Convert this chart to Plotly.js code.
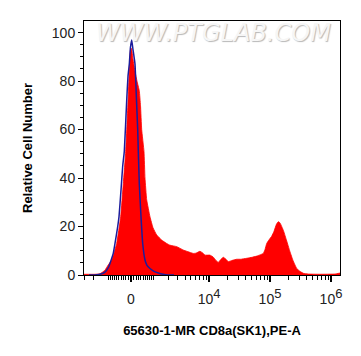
<!DOCTYPE html>
<html>
<head>
<meta charset="utf-8">
<script src="https://cdn.plot.ly/plotly-3.0.1.min.js"></script>
<style>
  html, body { margin: 0; padding: 0; background: #fff; }
  #chart { width: 361px; height: 356px; }
</style>
</head>
<body>
<div id="chart"></div>
<script>
// Histogram bins on a 256-channel biexponential display scale
const sampleChannel = [0, 11, 16, 21, 24, 27.7, 30, 32.7, 36.7, 39.3, 41.7, 43, 44.5, 45.5, 46.5, 47.5, 49, 51, 53, 55.3, 56.5, 57.7, 60, 61, 62.7, 66, 69, 72.7, 77.7, 82.7, 86, 92.7, 99.3, 104, 109.3, 112, 116, 119, 121, 126, 129, 132, 134.3, 137, 139.3, 142, 144.3, 148, 152.7, 157, 162.7, 168, 172.7, 176, 179.3, 181, 182.7, 185, 187.7, 190, 192.5, 194.3, 196, 199.3, 202, 206, 209, 212.7, 216, 219.3, 224, 236, 251, 256];
const sampleCount = [0.3, 0.3, 0.5, 2, 4, 6.2, 9, 13, 24, 37.7, 51, 62, 76, 86, 93, 93.5, 89, 84, 80, 76, 70, 60, 51, 40, 31, 24, 19.5, 16.5, 14.4, 13, 12.3, 11.7, 10.3, 9.6, 8.9, 9.0, 9.8, 9.0, 8.2, 8.2, 7.5, 6.0, 5.2, 6.5, 7.3, 6.5, 5.5, 6.0, 6.5, 6.5, 6.9, 7.3, 7.8, 8.3, 8.9, 10.5, 13, 14.5, 16, 18, 21, 22, 21.5, 18.5, 15, 9.6, 6, 2.7, 1.5, 0.7, 0.4, 0.3, 0.4, 0.8];

const isotypeChannel = [5, 11, 17.7, 21, 24.3, 27, 29.3, 31, 33.7, 35, 37, 38.7, 40.3, 42.7, 44, 45.3, 46.5, 47.7, 49, 51, 52.5, 53.7, 54.3, 55.3, 57, 58.7, 61, 63, 66, 70, 74.3, 79, 84, 90];
const isotypeCount = [0, 0, 0.5, 1.2, 3, 6, 9, 13, 20, 24, 35, 45, 51, 72, 82, 87, 94, 97, 93, 87, 72, 60, 51, 37.7, 24, 13, 6.2, 4, 2.7, 1.5, 0.8, 0.3, 0, 0];

const majorTickValues = [0, 1e4, 1e5, 1e6];
const majorTickLabels = ['0',
  '10<sup><span style="font-size:13px">4</span></sup>',
  '10<sup><span style="font-size:13px">5</span></sup>',
  '10<sup><span style="font-size:13px">6</span></sup>'];
const yTickValues = [0, 20, 40, 60, 80, 100];

// biexponential (arcsinh) display transform: intensity -> channel
function toChannel(v) { return 47 + 61 * Math.asinh(v / 1052) / Math.LN10; }

const minorValues = [];
for (let k = 1; k <= 9; k++) { minorValues.push(k * 100, -k * 100); }
[1000, 2000, 3000].forEach(v => minorValues.push(-v));
for (let k = 1; k <= 9; k++) { minorValues.push(k * 1000); }
for (let k = 2; k <= 9; k++) { minorValues.push(k * 1e4, k * 1e5); }
const minorTicks = minorValues.map(toChannel).filter(c => c >= 0 && c <= 256);

const traces = [
  {
    x: sampleChannel, y: sampleCount, type: 'scatter', mode: 'lines',
    fill: 'tozeroy', fillcolor: 'rgb(255,0,0)',
    line: { color: 'rgb(255,0,0)', width: 0.8, shape: 'spline', smoothing: 0.3 },
    hoverinfo: 'skip'
  },
  {
    x: isotypeChannel, y: isotypeCount, type: 'scatter', mode: 'lines',
    line: { color: '#1c1c9c', width: 1.5, shape: 'spline', smoothing: 0.4 },
    hoverinfo: 'skip'
  }
];

const layout = {
  width: 361, height: 356,
  margin: { l: 84, r: 21, t: 21, b: 81, pad: 0 },
  paper_bgcolor: '#fff', plot_bgcolor: '#fff',
  showlegend: false,
  font: { family: 'Liberation Sans, Arial, sans-serif', color: '#222', size: 14 },
  xaxis: {
    range: [0, 256], showgrid: false, zeroline: false,
    showline: true, linecolor: '#000', linewidth: 1, mirror: true,
    tickmode: 'array', tickvals: majorTickValues.map(toChannel), ticktext: majorTickLabels,
    ticks: 'outside', ticklen: 6, tickwidth: 1.5, tickcolor: '#000',
    ticklabelstandoff: 5,
    tickfont: { size: 14, color: '#222' },
    minor: { tickmode: 'array', tickvals: minorTicks, ticks: 'outside', ticklen: 4, tickwidth: 1, tickcolor: '#000', showgrid: false },
    title: { text: '65630-1-MR CD8a(SK1),PE-A', font: { size: 13, color: '#000', weight: 'bold' }, standoff: 20 }
  },
  yaxis: {
    range: [0, 104.8], showgrid: false, zeroline: false,
    showline: true, linecolor: '#000', linewidth: 1, mirror: true,
    tickmode: 'array', tickvals: yTickValues,
    ticks: 'outside', ticklen: 5, tickwidth: 1, tickcolor: '#000',
    tickfont: { size: 14, color: '#222' },
    minor: { dtick: 5, ticks: 'outside', ticklen: 3, tickwidth: 1, tickcolor: '#000', showgrid: false },
    title: { text: 'Relative Cell Number', font: { size: 13, color: '#000', weight: 'bold' }, standoff: 16 }
  },
  annotations: [{
    text: 'WWW.PTGLAB.COM', xref: 'paper', yref: 'paper', x: 0.506, y: 0.953,
    xanchor: 'center', yanchor: 'middle', showarrow: false,
    font: { family: 'DejaVu Sans, sans-serif', size: 24, color: '#f6f6f6', style: 'italic', shadow: '1px 1px 1px #b8b8b8' }
  }]
};

Plotly.newPlot('chart', traces, layout, { staticPlot: true, displayModeBar: false });
</script>
</body>
</html>
